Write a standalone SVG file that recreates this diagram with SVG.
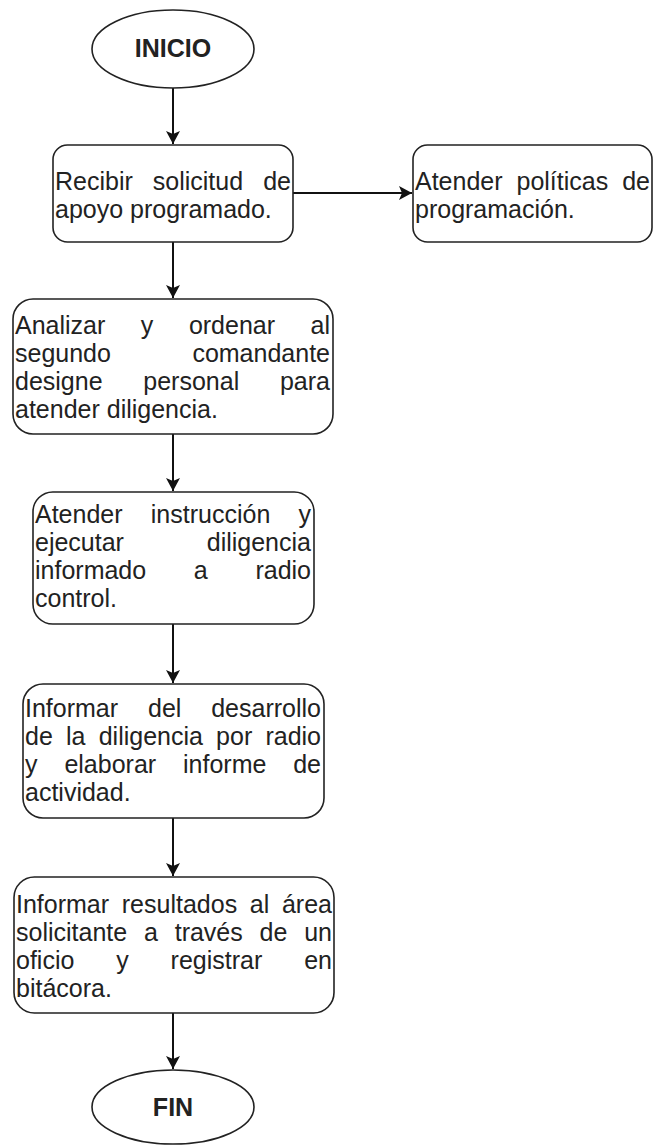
<svg xmlns="http://www.w3.org/2000/svg" width="653" height="1145" viewBox="0 0 653 1145">
<defs>
<style>
.shape{fill:#fff;stroke:#222;stroke-width:1.6}
.t{font-family:"Liberation Sans",Arial,sans-serif;font-size:25px;fill:#222}
.b{font-family:"Liberation Sans",Arial,sans-serif;font-size:25px;font-weight:bold;fill:#222;text-anchor:middle}
.e{text-anchor:end}
.c{fill:none;stroke:#111;stroke-width:2}
</style>
<marker id="arr" markerUnits="userSpaceOnUse" markerWidth="16" markerHeight="16" viewBox="-14 -8 16 16" refX="0" refY="0" orient="auto">
<path d="M0,0 L-13,-7 L-10,0 L-13,7 Z" fill="#111"/>
</marker>
</defs>
<rect width="653" height="1145" fill="#fff"/>
<g id="connectors">
<line class="c" x1="173" y1="88" x2="173" y2="144" marker-end="url(#arr)"/>
<line class="c" x1="173" y1="242" x2="173" y2="298" marker-end="url(#arr)"/>
<line class="c" x1="293" y1="193" x2="412" y2="193" marker-end="url(#arr)"/>
<line class="c" x1="173" y1="434" x2="173" y2="491" marker-end="url(#arr)"/>
<line class="c" x1="173" y1="624" x2="173" y2="683" marker-end="url(#arr)"/>
<line class="c" x1="173" y1="818" x2="173" y2="876" marker-end="url(#arr)"/>
<line class="c" x1="173" y1="1013" x2="173" y2="1069" marker-end="url(#arr)"/>
</g>
<g id="inicio">
<ellipse class="shape" cx="173" cy="49" rx="81" ry="39"/>
<text class="b" x="173" y="57">INICIO</text>
</g>
<g id="recibir">
<rect class="shape" x="53" y="145" width="240" height="97" rx="14.5"/>
<text class="t" y="190"><tspan x="55">Recibir</tspan><tspan x="152.8">solicitud</tspan><tspan x="291" class="e">de</tspan></text>
<text class="t" x="55" y="218">apoyo programado.</text>
</g>
<g id="politicas">
<rect class="shape" x="413" y="145" width="239" height="97" rx="14.5"/>
<text class="t" y="190"><tspan x="415">Atender</tspan><tspan x="516.5">políticas</tspan><tspan x="650" class="e">de</tspan></text>
<text class="t" x="415" y="218">programación.</text>
</g>
<g id="analizar">
<rect class="shape" x="13" y="299" width="320" height="135" rx="20"/>
<text class="t" y="334"><tspan x="15">Analizar</tspan><tspan x="140.8">y</tspan><tspan x="188.9">ordenar</tspan><tspan x="330" class="e">al</tspan></text>
<text class="t" y="362"><tspan x="15">segundo</tspan><tspan x="330" class="e">comandante</tspan></text>
<text class="t" y="390"><tspan x="15">designe</tspan><tspan x="143.3">personal</tspan><tspan x="330" class="e">para</tspan></text>
<text class="t" x="15" y="418">atender diligencia.</text>
</g>
<g id="atender">
<rect class="shape" x="33" y="492" width="281" height="132" rx="19.8"/>
<text class="t" y="523"><tspan x="35">Atender</tspan><tspan x="150.8">instrucción</tspan><tspan x="311" class="e">y</tspan></text>
<text class="t" y="551"><tspan x="35">ejecutar</tspan><tspan x="311" class="e">diligencia</tspan></text>
<text class="t" y="579"><tspan x="35">informado</tspan><tspan x="193.8">a</tspan><tspan x="311" class="e">radio</tspan></text>
<text class="t" x="35" y="607">control.</text>
</g>
<g id="informar-desarrollo">
<rect class="shape" x="23" y="684" width="301" height="134" rx="20"/>
<text class="t" y="717"><tspan x="25">Informar</tspan><tspan x="148">del</tspan><tspan x="321" class="e">desarrollo</tspan></text>
<text class="t" y="745"><tspan x="25">de</tspan><tspan x="66">la</tspan><tspan x="98.7">diligencia</tspan><tspan x="216.1">por</tspan><tspan x="321" class="e">radio</tspan></text>
<text class="t" y="773"><tspan x="25">y</tspan><tspan x="64.4">elaborar</tspan><tspan x="183">informe</tspan><tspan x="321" class="e">de</tspan></text>
<text class="t" x="25" y="801">actividad.</text>
</g>
<g id="informar-resultados">
<rect class="shape" x="14" y="877" width="320" height="136" rx="20.4"/>
<text class="t" y="913"><tspan x="16">Informar</tspan><tspan x="121.8">resultados</tspan><tspan x="249.8">al</tspan><tspan x="332" class="e">área</tspan></text>
<text class="t" y="941"><tspan x="16">solicitante</tspan><tspan x="144">a</tspan><tspan x="174.7">través</tspan><tspan x="259.6">de</tspan><tspan x="332" class="e">un</tspan></text>
<text class="t" y="969"><tspan x="16">oficio</tspan><tspan x="116.2">y</tspan><tspan x="170.6">registrar</tspan><tspan x="332" class="e">en</tspan></text>
<text class="t" x="16" y="997">bitácora.</text>
</g>
<g id="fin">
<ellipse class="shape" cx="173" cy="1107" rx="81" ry="37"/>
<text class="b" x="173" y="1116">FIN</text>
</g>
</svg>
